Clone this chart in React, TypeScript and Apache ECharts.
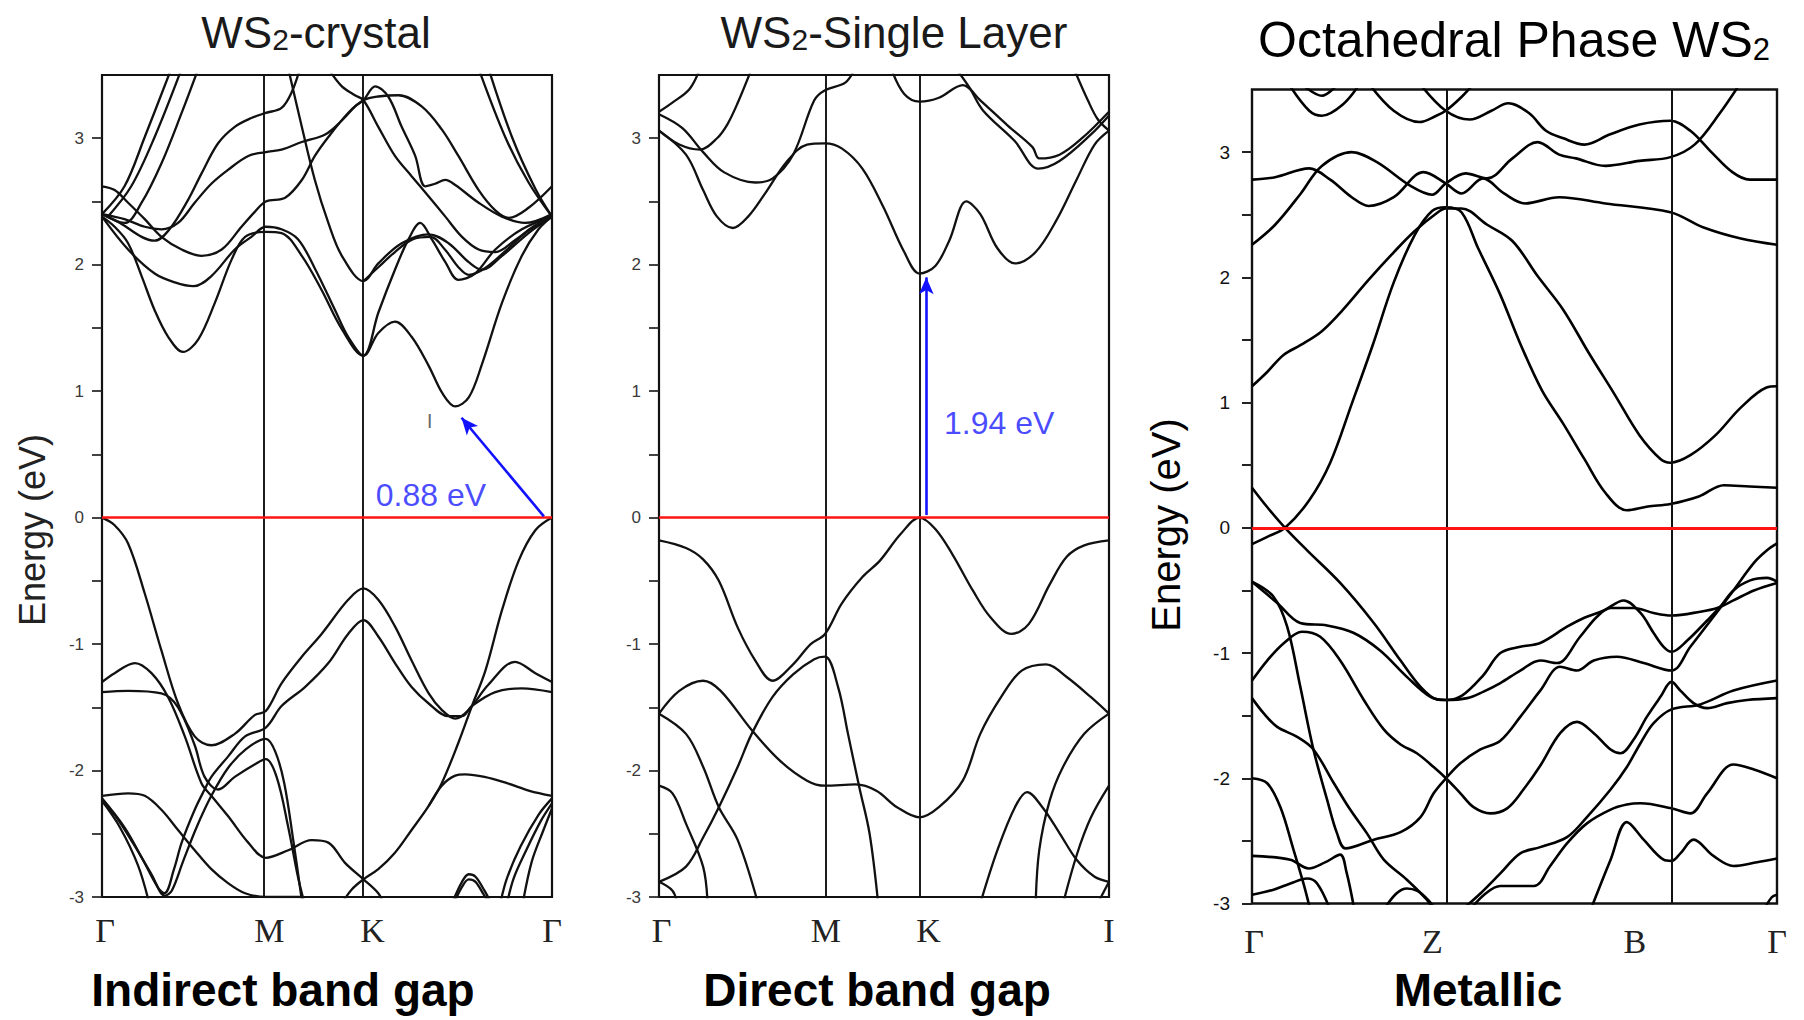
import React, { useEffect, useRef } from "react";
import * as echarts from "echarts";

// ---------- shared axis values ----------
const energyTicks = [-3, -2, -1, 0, 1, 2, 3];
const energyHalfTicks = [-3, -2.5, -2, -1.5, -1, -0.5, 0, 0.5, 1, 1.5, 2, 2.5, 3];

// ---------- panel 1 : WS2 crystal ----------
const crystalPointNames = ["Γ", "M", "K", "Γ"];
const crystalPoints = [0, 0.364, 0.581, 1];
const crystalGap = 0.88;
const crystalArrow = [[0.982, 0.01], [0.799, 0.79]];
const crystalGapLabelAt = [0.731, 0.18];
const crystalMarkAt = [0.728, 0.77];
const crystalBands: number[][][] = [
  [[0,2.38],[0.028,2.30],[0.058,2.17],[0.088,1.91],[0.117,1.64],[0.147,1.43],[0.18,1.31],[0.214,1.41],[0.251,1.70],[0.288,2.04],[0.318,2.22],[0.364,2.26],[0.399,2.25],[0.444,2.07],[0.488,1.80],[0.533,1.49],[0.581,1.28],[0.614,1.46],[0.651,1.55],[0.688,1.43],[0.726,1.20],[0.757,0.98],[0.785,0.88],[0.815,0.95],[0.845,1.22],[0.889,1.70],[0.933,2.07],[0.97,2.28],[1,2.38]],
  [[0,2.38],[0.058,2.12],[0.117,1.93],[0.162,1.86],[0.203,1.83],[0.243,1.91],[0.295,2.12],[0.332,2.22],[0.364,2.30],[0.399,2.28],[0.436,2.20],[0.473,1.97],[0.518,1.64],[0.547,1.43],[0.581,1.28],[0.614,1.62],[0.651,1.96],[0.681,2.20],[0.707,2.33],[0.733,2.20],[0.763,2.02],[0.792,1.88],[0.829,1.93],[0.874,2.12],[0.933,2.28],[1,2.38]],
  [[0,2.62],[0.028,2.59],[0.058,2.49],[0.095,2.36],[0.132,2.22],[0.177,2.12],[0.221,2.07],[0.266,2.12],[0.31,2.30],[0.34,2.42],[0.364,2.50],[0.407,2.53],[0.444,2.67],[0.473,2.86],[0.503,3.01],[0.547,3.20],[0.581,3.30],[0.614,3.33],[0.659,3.34],[0.711,3.25],[0.755,3.07],[0.792,2.86],[0.837,2.59],[0.874,2.43],[0.904,2.37],[0.948,2.45],[1,2.62]],
  [[0.414,3.55],[0.444,3.09],[0.473,2.67],[0.503,2.33],[0.533,2.07],[0.581,1.87],[0.614,2.01],[0.666,2.17],[0.726,2.24],[0.77,2.17],[0.815,2.02],[0.844,1.96],[0.889,2.07],[0.948,2.25],[1,2.38]],
  [[0.581,1.87],[0.614,1.98],[0.651,2.10],[0.69,2.20],[0.73,2.22],[0.762,2.12],[0.792,1.98],[0.815,1.92],[0.85,1.97],[0.90,2.12],[0.95,2.28],[1,2.38]],
  [[0,2.40],[0.05,2.36],[0.095,2.30],[0.132,2.28],[0.169,2.33],[0.206,2.49],[0.243,2.64],[0.28,2.75],[0.325,2.86],[0.364,2.89],[0.399,2.91],[0.444,2.97],[0.496,3.03],[0.533,3.14],[0.562,3.25],[0.581,3.30],[0.607,3.41],[0.636,3.33],[0.666,3.09],[0.696,2.86],[0.718,2.62],[0.74,2.64],[0.763,2.67],[0.785,2.63],[0.837,2.49],[0.889,2.38],[0.94,2.33],[1,2.40]],
  [[0,2.40],[0.04,2.33],[0.088,2.22],[0.117,2.19],[0.15,2.28],[0.191,2.51],[0.221,2.72],[0.258,2.96],[0.295,3.09],[0.332,3.16],[0.364,3.20],[0.399,3.24],[0.421,3.36],[0.44,3.55]],
  [[0.503,3.55],[0.533,3.41],[0.562,3.34],[0.581,3.30],[0.614,3.09],[0.651,2.86],[0.688,2.70],[0.726,2.54],[0.763,2.38],[0.80,2.22],[0.837,2.12],[0.874,2.10],[0.92,2.20],[0.96,2.30],[1,2.38]],
  [[0,2.40],[0.05,2.62],[0.095,3.01],[0.154,3.55]],
  [[0.013,2.38],[0.065,2.62],[0.117,3.01],[0.177,3.55]],
  [[0,2.40],[0.05,2.33],[0.088,2.49],[0.132,2.80],[0.177,3.20],[0.214,3.55]],
  [[0.837,3.55],[0.896,3.01],[0.948,2.65],[1,2.38]],
  [[0.859,3.55],[0.911,3.01],[0.963,2.60],[1,2.38]],
  [[0,0],[0.028,-0.06],[0.058,-0.205],[0.095,-0.60],[0.132,-1.05],[0.169,-1.47],[0.206,-1.73],[0.243,-1.80],[0.295,-1.71],[0.34,-1.56],[0.364,-1.53],[0.399,-1.31],[0.444,-1.10],[0.488,-0.92],[0.547,-0.65],[0.581,-0.56],[0.614,-0.65],[0.651,-0.86],[0.688,-1.13],[0.726,-1.39],[0.755,-1.52],[0.785,-1.59],[0.815,-1.52],[0.859,-1.32],[0.918,-1.14],[0.963,-1.23],[1,-1.30]],
  [[0,-1.38],[0.058,-1.37],[0.132,-1.39],[0.169,-1.50],[0.206,-1.80],[0.228,-2.05],[0.258,-2.15],[0.295,-2.05],[0.34,-1.95],[0.364,-1.91],[0.388,-2.05],[0.414,-2.45],[0.436,-2.85],[0.45,-3.05]],
  [[0,-2.22],[0.05,-2.45],[0.09,-2.70],[0.125,-2.93],[0.139,-2.97],[0.16,-2.78],[0.177,-2.57],[0.206,-2.31],[0.228,-2.15],[0.243,-2.05],[0.28,-1.89],[0.318,-1.73],[0.364,-1.66],[0.399,-1.49],[0.451,-1.34],[0.503,-1.15],[0.547,-0.92],[0.581,-0.81],[0.614,-0.94],[0.651,-1.15],[0.688,-1.34],[0.726,-1.47],[0.77,-1.57],[0.80,-1.57],[0.822,-1.49],[0.874,-1.38],[0.933,-1.35],[1,-1.38]],
  [[0,-1.30],[0.028,-1.23],[0.073,-1.15],[0.11,-1.23],[0.147,-1.42],[0.184,-1.73],[0.221,-2.10],[0.243,-2.20],[0.28,-2.36],[0.325,-2.57],[0.364,-2.69],[0.414,-2.63],[0.466,-2.55],[0.503,-2.57],[0.54,-2.73],[0.581,-2.86],[0.614,-2.97],[0.625,-3.05]],
  [[1,0],[0.963,-0.10],[0.926,-0.34],[0.889,-0.73],[0.852,-1.21],[0.822,-1.49],[0.792,-1.78],[0.755,-2.10],[0.726,-2.28],[0.688,-2.47],[0.651,-2.65],[0.614,-2.78],[0.581,-2.86],[0.555,-2.94],[0.533,-3.05]],
  [[0.726,-2.28],[0.755,-2.12],[0.785,-2.04],[0.807,-2.03],[0.85,-2.05],[0.90,-2.10],[0.95,-2.16],[1,-2.20]],
  [[0,-2.20],[0.058,-2.18],[0.095,-2.20],[0.132,-2.31],[0.169,-2.47],[0.206,-2.63],[0.243,-2.78],[0.28,-2.89],[0.318,-2.97],[0.364,-3.0],[0.44,-3.0]],
  [[0,-2.24],[0.03,-2.36],[0.07,-2.58],[0.11,-2.82],[0.14,-2.99],[0.155,-2.95],[0.18,-2.72],[0.21,-2.45],[0.243,-2.20],[0.28,-1.98],[0.32,-1.83],[0.364,-1.75],[0.385,-1.85],[0.405,-2.10],[0.425,-2.55],[0.445,-3.05]],
  [[0,-2.24],[0.04,-2.45],[0.08,-2.75],[0.105,-3.05]],
  [[1,-2.22],[0.97,-2.35],[0.93,-2.60],[0.90,-2.85],[0.885,-3.05]],
  [[1,-2.26],[0.975,-2.40],[0.94,-2.65],[0.915,-2.85],[0.90,-3.05]],
  [[1,-2.30],[0.98,-2.48],[0.955,-2.72],[0.935,-3.05]],
  [[0.778,-3.05],[0.80,-2.88],[0.815,-2.82],[0.83,-2.84],[0.85,-2.95],[0.865,-3.05]],
  [[0.782,-3.05],[0.80,-2.92],[0.815,-2.86],[0.83,-2.88],[0.848,-2.98],[0.86,-3.05]],
];

// ---------- panel 2 : WS2 single layer ----------
const layerPointNames = ["Γ", "M", "K", "I"];
const layerPoints = [0, 0.369, 0.579, 1];
const layerGap = 1.94;
const layerArrow = [[0.594, 0.02], [0.594, 1.9]];
const layerGapLabelAt = [0.756, 0.75];
const layerBands: number[][][] = [
  [[0,3.06],[0.06,2.87],[0.098,2.59],[0.129,2.38],[0.164,2.29],[0.198,2.38],[0.237,2.57],[0.283,2.81],[0.329,2.95],[0.369,2.96],[0.406,2.92],[0.452,2.76],[0.498,2.46],[0.545,2.10],[0.579,1.93],[0.614,1.99],[0.645,2.19],[0.683,2.50],[0.714,2.40],[0.752,2.13],[0.791,2.01],[0.837,2.10],[0.883,2.35],[0.929,2.68],[0.968,2.95],[1,3.06]],
  [[0,3.19],[0.052,3.08],[0.098,2.89],[0.145,2.73],[0.214,2.65],[0.252,2.68],[0.298,2.87],[0.345,3.30],[0.369,3.38],[0.414,3.44],[0.435,3.55]],
  [[0,3.06],[0.045,2.95],[0.091,2.91],[0.129,3.0],[0.152,3.11],[0.175,3.28],[0.206,3.55]],
  [[0,3.21],[0.029,3.28],[0.068,3.39],[0.091,3.55]],
  [[0.516,3.55],[0.545,3.35],[0.579,3.29],[0.622,3.32],[0.675,3.42],[0.714,3.30],[0.775,3.10],[0.83,2.93],[0.845,2.84],[0.89,2.87],[0.94,3.0],[1,3.21]],
  [[0.66,3.55],[0.69,3.40],[0.72,3.22],[0.79,2.98],[0.843,2.76],[0.89,2.82],[0.96,3.03],[1,3.18]],
  [[0.922,3.55],[0.953,3.30],[0.975,3.15],[1,3.06]],
  [[0,-0.18],[0.06,-0.24],[0.098,-0.33],[0.133,-0.50],[0.175,-0.87],[0.214,-1.13],[0.252,-1.29],[0.298,-1.16],[0.337,-1.0],[0.369,-0.92],[0.406,-0.68],[0.452,-0.47],[0.491,-0.34],[0.537,-0.13],[0.579,0],[0.614,-0.09],[0.652,-0.29],[0.698,-0.58],[0.737,-0.79],[0.783,-0.92],[0.822,-0.84],[0.868,-0.53],[0.906,-0.31],[0.945,-0.22],[1,-0.18]],
  [[0,-2.88],[0.06,-2.76],[0.098,-2.53],[0.133,-2.29],[0.175,-1.97],[0.206,-1.71],[0.252,-1.42],[0.298,-1.24],[0.345,-1.12],[0.369,-1.10],[0.398,-1.34],[0.42,-1.71],[0.445,-2.13],[0.468,-2.50],[0.487,-3.05]],
  [[0,-1.55],[0.045,-1.37],[0.098,-1.29],[0.137,-1.37],[0.206,-1.68],[0.268,-1.92],[0.329,-2.08],[0.369,-2.12],[0.437,-2.11],[0.483,-2.16],[0.529,-2.29],[0.579,-2.37],[0.622,-2.29],[0.675,-2.08],[0.714,-1.71],[0.76,-1.42],[0.806,-1.21],[0.86,-1.16],[0.906,-1.26],[0.96,-1.42],[1,-1.55]],
  [[0,-1.55],[0.06,-1.71],[0.098,-1.97],[0.133,-2.29],[0.175,-2.55],[0.22,-3.05]],
  [[0,-2.12],[0.03,-2.18],[0.06,-2.42],[0.098,-2.76],[0.108,-3.05]],
  [[0,-2.88],[0.03,-2.95],[0.04,-3.05]],
  [[1,-1.55],[0.945,-1.71],[0.898,-1.97],[0.868,-2.24],[0.845,-2.63],[0.837,-3.05]],
  [[0.714,-3.05],[0.752,-2.63],[0.791,-2.29],[0.818,-2.17],[0.852,-2.29],[0.891,-2.50],[0.929,-2.71],[0.968,-2.84],[1,-2.88]],
  [[1,-2.12],[0.96,-2.37],[0.929,-2.66],[0.898,-3.05]],
  [[1,-2.88],[0.975,-3.05]],
];

// ---------- panel 3 : octahedral WS2 ----------
const octaPointNames = ["Γ", "Z", "B", "Γ"];
const octaPoints = [0, 0.3695, 0.799, 1];
const octaBands: number[][][] = [
  [[0,1.13],[0.028,1.24],[0.06,1.38],[0.093,1.46],[0.133,1.57],[0.173,1.74],[0.222,1.98],[0.27,2.20],[0.31,2.37],[0.351,2.51],[0.369,2.55],[0.399,2.55],[0.448,2.42],[0.496,2.29],[0.544,2.01],[0.593,1.74],[0.641,1.40],[0.69,1.07],[0.738,0.74],[0.778,0.55],[0.797,0.52],[0.835,0.58],[0.883,0.74],[0.931,0.96],[0.98,1.12],[1,1.13]],
  [[0,-0.13],[0.03,-0.07],[0.063,0],[0.109,0.22],[0.149,0.52],[0.19,0.99],[0.23,1.46],[0.27,1.96],[0.31,2.34],[0.343,2.53],[0.369,2.56],[0.399,2.52],[0.431,2.23],[0.472,1.87],[0.512,1.46],[0.552,1.10],[0.593,0.83],[0.633,0.55],[0.673,0.28],[0.714,0.14],[0.754,0.17],[0.797,0.19],[0.851,0.25],[0.899,0.34],[0.948,0.33],[1,0.32]],
  [[0,2.78],[0.044,2.80],[0.109,2.87],[0.149,2.78],[0.19,2.64],[0.222,2.57],[0.27,2.64],[0.327,2.84],[0.369,2.75],[0.399,2.67],[0.44,2.79],[0.48,2.67],[0.52,2.59],[0.585,2.64],[0.673,2.59],[0.797,2.52],[0.859,2.40],[0.931,2.31],[1,2.26]],
  [[0,2.26],[0.044,2.42],[0.093,2.67],[0.133,2.89],[0.19,3.0],[0.238,2.92],[0.302,2.73],[0.343,2.66],[0.369,2.75],[0.407,2.83],[0.448,2.79],[0.496,2.95],[0.544,3.08],[0.585,2.98],[0.617,2.95],[0.673,2.89],[0.738,2.93],[0.797,2.96],[0.843,3.06],[0.891,3.31],[0.93,3.55]],
  [[0.069,3.55],[0.109,3.33],[0.133,3.29],[0.173,3.38],[0.206,3.55]],
  [[0.093,3.55],[0.133,3.45],[0.165,3.55]],
  [[0.222,3.55],[0.27,3.33],[0.319,3.24],[0.351,3.29],[0.369,3.33],[0.399,3.44],[0.423,3.55]],
  [[0.319,3.55],[0.369,3.33],[0.415,3.26],[0.456,3.33],[0.488,3.39],[0.528,3.31],[0.56,3.17],[0.593,3.11],[0.633,3.06],[0.681,3.14],[0.738,3.22],[0.797,3.25],[0.835,3.17],[0.875,3.0],[0.915,2.84],[0.948,2.78],[1,2.78]],
  [[0,0.32],[0.028,0.17],[0.063,0],[0.105,-0.18],[0.168,-0.44],[0.232,-0.76],[0.283,-1.06],[0.321,-1.27],[0.352,-1.37],[0.3695,-1.375],[0.41,-1.36],[0.44,-1.31],[0.473,-1.24],[0.511,-1.14],[0.549,-1.06],[0.581,-1.08],[0.625,-0.87],[0.657,-0.71],[0.683,-0.64],[0.727,-0.64],[0.765,-0.68],[0.799,-0.70],[0.854,-0.67],[0.886,-0.64],[0.917,-0.58],[0.956,-0.50],[1,-0.44]],
  [[0,-0.43],[0.048,-0.60],[0.092,-0.76],[0.143,-0.78],[0.194,-0.84],[0.244,-0.98],[0.295,-1.19],[0.34,-1.35],[0.3695,-1.375],[0.40,-1.34],[0.44,-1.18],[0.473,-1.0],[0.511,-0.95],[0.549,-0.92],[0.60,-0.79],[0.632,-0.72],[0.67,-0.66],[0.708,-0.58],[0.74,-0.68],[0.765,-0.84],[0.784,-0.95],[0.799,-0.99],[0.829,-0.90],[0.867,-0.74],[0.892,-0.63],[0.917,-0.50],[0.949,-0.42],[0.981,-0.40],[1,-0.43]],
  [[0,-0.43],[0.041,-0.55],[0.067,-0.79],[0.092,-1.27],[0.117,-1.77],[0.143,-2.17],[0.162,-2.44],[0.178,-2.56],[0.232,-2.49],[0.283,-2.43],[0.321,-2.31],[0.346,-2.12],[0.3695,-2.0],[0.397,-1.88],[0.435,-1.77],[0.473,-1.70],[0.511,-1.51],[0.549,-1.30],[0.587,-1.11],[0.619,-1.14],[0.651,-1.06],[0.695,-1.03],[0.746,-1.08],[0.799,-1.14],[0.835,-0.95],[0.879,-0.71],[0.917,-0.50],[0.956,-0.28],[0.981,-0.18],[1,-0.125]],
  [[0,-1.22],[0.029,-1.06],[0.061,-0.92],[0.095,-0.83],[0.13,-0.87],[0.168,-1.06],[0.213,-1.375],[0.251,-1.61],[0.283,-1.73],[0.314,-1.80],[0.346,-1.91],[0.3695,-2.0],[0.397,-2.12],[0.422,-2.23],[0.454,-2.28],[0.486,-2.24],[0.517,-2.09],[0.549,-1.90],[0.587,-1.64],[0.619,-1.55],[0.651,-1.64],[0.683,-1.77],[0.702,-1.80],[0.727,-1.69],[0.752,-1.51],[0.778,-1.35],[0.799,-1.23],[0.816,-1.30],[0.841,-1.40],[0.867,-1.44],[0.905,-1.40],[0.943,-1.375],[1,-1.36]],
  [[0,-1.36],[0.022,-1.48],[0.048,-1.59],[0.086,-1.67],[0.117,-1.77],[0.156,-2.04],[0.187,-2.25],[0.219,-2.44],[0.251,-2.65],[0.295,-2.81],[0.333,-2.97],[0.345,-3.05]],
  [[0.251,-3.05],[0.275,-2.92],[0.295,-2.88],[0.315,-2.90],[0.335,-2.97],[0.35,-3.05]],
  [[0,-2.0],[0.029,-2.04],[0.054,-2.23],[0.079,-2.57],[0.098,-2.84],[0.111,-3.05]],
  [[0,-2.62],[0.073,-2.65],[0.108,-2.72],[0.14,-2.67],[0.168,-2.61],[0.18,-2.75],[0.195,-3.05]],
  [[0,-2.93],[0.041,-2.89],[0.073,-2.84],[0.105,-2.80],[0.124,-2.84],[0.149,-3.05]],
  [[0.40,-3.05],[0.435,-2.92],[0.473,-2.76],[0.511,-2.60],[0.549,-2.55],[0.60,-2.47],[0.638,-2.31],[0.683,-2.09],[0.714,-1.91],[0.74,-1.72],[0.765,-1.56],[0.799,-1.45],[0.854,-1.41],[0.917,-1.30],[1,-1.22]],
  [[0.415,-3.05],[0.445,-2.92],[0.473,-2.86],[0.537,-2.86],[0.568,-2.70],[0.60,-2.52],[0.638,-2.36],[0.683,-2.25],[0.714,-2.21],[0.74,-2.20],[0.799,-2.24],[0.835,-2.28],[0.867,-2.12],[0.917,-1.89],[0.956,-1.93],[1,-2.0]],
  [[0.645,-3.05],[0.683,-2.65],[0.714,-2.35],[0.746,-2.49],[0.784,-2.65],[0.799,-2.66],[0.816,-2.60],[0.841,-2.49],[0.879,-2.62],[0.917,-2.70],[0.962,-2.67],[1,-2.64]],
  [[0.975,-3.05],[0.99,-2.95],[1,-2.93]],
];

// ---------- helpers ----------
const nearestName = (vals: number[], names: string[]) => (v: number) => {
  let best = 0;
  for (let i = 1; i < vals.length; i++) if (Math.abs(vals[i] - v) < Math.abs(vals[best] - v)) best = i;
  return names[best];
};

function bandSeries(bands: number[][][], idx: number, width: number, color: string) {
  return bands.map((pts) => ({
    type: "line",
    xAxisIndex: idx,
    yAxisIndex: idx,
    data: pts,
    symbol: "none",
    smooth: 0.35,
    silent: true,
    clip: true,
    z: 3,
    lineStyle: { color, width },
  }));
}

function markerSeries(idx: number, points: number[], kWidth: number, redWidth: number, arrow?: number[][]) {
  const data: any[] = points.slice(1, -1).map((v) => ({
    xAxis: v,
    lineStyle: { color: "#111", width: kWidth, type: "solid" },
  }));
  data.push({ yAxis: 0, lineStyle: { color: "#ff1414", width: redWidth, type: "solid" } });
  if (arrow) {
    const ls = { color: "#1212ff", width: 2.6, type: "solid" };
    data.push([
      { coord: arrow[0], symbol: "none", lineStyle: ls },
      { coord: arrow[1], symbol: "arrow", symbolSize: [11, 17], lineStyle: ls },
    ]);
  }
  return {
    type: "line",
    xAxisIndex: idx,
    yAxisIndex: idx,
    data: [],
    symbol: "none",
    silent: true,
    z: 4,
    markLine: {
      silent: true,
      symbol: ["none", "none"],
      label: { show: false },
      emphasis: { disabled: true },
      data,
    },
  };
}

function textSeries(idx: number, at: number[], text: string, color: string, size: number) {
  return {
    type: "scatter",
    xAxisIndex: idx,
    yAxisIndex: idx,
    data: [at],
    symbolSize: 0,
    silent: true,
    z: 5,
    itemStyle: { color: "rgba(0,0,0,0)" },
    label: {
      show: true,
      position: "inside",
      formatter: text,
      color,
      fontSize: size,
      fontFamily: "Liberation Sans, Arial, sans-serif",
    },
  };
}

export default function App() {
  const ref = useRef<HTMLDivElement>(null);

  useEffect(() => {
    if (!ref.current) return;
    const chart = echarts.init(ref.current, undefined, { renderer: "svg" });

    const grids = [
      { left: 102, top: 75, width: 450, height: 822 },
      { left: 659, top: 75, width: 450, height: 822 },
      { left: 1252, top: 89.5, width: 525, height: 814 },
    ].map((g, i) => ({
      ...g,
      show: true,
      borderColor: "#111",
      borderWidth: i === 2 ? 2.4 : 2.2,
      backgroundColor: "transparent",
      containLabel: false,
      outerBoundsMode: "none",
    }));

    const labelNudges = [
      [0.007, 0.008, 0.02, 0.0],
      [0.006, 0.002, 0.02, 0.0],
      [0.004, -0.026, -0.07, 1.0],
    ];
    const pointSets = [crystalPoints, layerPoints, octaPoints];
    const nameSets = [crystalPointNames, layerPointNames, octaPointNames];

    const xAxes = [0, 1, 2].map((i) => {
      const vals = pointSets[i].map((v, j) => (i === 2 && j === 3 ? 1 : v + labelNudges[i][j]));
      return {
        type: "value",
        gridIndex: i,
        min: 0,
        max: 1,
        axisLine: { show: false },
        axisTick: { show: false },
        splitLine: { show: false },
        axisLabel: {
          customValues: vals,
          formatter: nearestName(vals, nameSets[i]),
          fontFamily: "Liberation Serif, Times New Roman, serif",
          fontSize: 34,
          color: "#222",
          margin: i === 2 ? 21 : 16,
          showMinLabel: true,
          showMaxLabel: true,
        },
      };
    });

    const yAxes = [0, 1, 2].map((i) => ({
      type: "value",
      gridIndex: i,
      min: -3,
      max: 3.5,
      interval: 1,
      axisLine: { show: false },
      splitLine: { show: false },
      axisTick: {
        show: true,
        customValues: energyHalfTicks,
        length: 10,
        inside: false,
        lineStyle: { color: "#222", width: i === 2 ? 2 : 1.7 },
      },
      axisLabel: {
        customValues: energyTicks,
        fontSize: i === 2 ? 19 : 17,
        color: i === 2 ? "#111" : "#3a3a3a",
        margin: i === 2 ? 22 : 18,
        fontFamily: "Liberation Sans, Arial, sans-serif",
      },
    }));

    const titleFont = "Liberation Sans, Arial, sans-serif";
    const graphic: any[] = [
      {
        type: "text",
        x: 316,
        y: 29,
        style: {
          text: "{a|WS}{b|2}{a|-crystal}",
          align: "center",
          verticalAlign: "middle",
          rich: {
            a: { fontSize: 44, fontFamily: titleFont, fill: "#1a1a1a", verticalAlign: "bottom", lineHeight: 50 },
            b: { fontSize: 30, fontFamily: titleFont, fill: "#1a1a1a", verticalAlign: "bottom", lineHeight: 46 },
          },
        },
      },
      {
        type: "text",
        x: 894,
        y: 29,
        style: {
          text: "{a|WS}{b|2}{a|-Single Layer}",
          align: "center",
          verticalAlign: "middle",
          rich: {
            a: { fontSize: 44, fontFamily: titleFont, fill: "#1a1a1a", verticalAlign: "bottom", lineHeight: 50 },
            b: { fontSize: 30, fontFamily: titleFont, fill: "#1a1a1a", verticalAlign: "bottom", lineHeight: 46 },
          },
        },
      },
      {
        type: "text",
        x: 1514,
        y: 36,
        style: {
          text: "{a|Octahedral Phase WS}{b|2}",
          align: "center",
          verticalAlign: "middle",
          rich: {
            a: { fontSize: 50, fontFamily: titleFont, fill: "#000", verticalAlign: "bottom", lineHeight: 58 },
            b: { fontSize: 31, fontFamily: titleFont, fill: "#000", verticalAlign: "bottom", lineHeight: 50 },
          },
        },
      },
      {
        type: "text",
        x: 283,
        y: 990,
        style: { text: "Indirect band gap", align: "center", verticalAlign: "middle", font: `bold 46px ${titleFont}`, fill: "#000" },
      },
      {
        type: "text",
        x: 877,
        y: 990,
        style: { text: "Direct band gap", align: "center", verticalAlign: "middle", font: `bold 46px ${titleFont}`, fill: "#000" },
      },
      {
        type: "text",
        x: 1478,
        y: 990,
        style: { text: "Metallic", align: "center", verticalAlign: "middle", font: `bold 46px ${titleFont}`, fill: "#000" },
      },
      {
        type: "text",
        x: 32,
        y: 530,
        rotation: Math.PI / 2,
        style: { text: "Energy (eV)", align: "center", verticalAlign: "middle", font: `36px ${titleFont}`, fill: "#222" },
      },
      {
        type: "text",
        x: 1166,
        y: 525,
        rotation: Math.PI / 2,
        style: { text: "Energy (eV)", align: "center", verticalAlign: "middle", font: `40px ${titleFont}`, fill: "#000" },
      },
    ];

    const series: any[] = [
      ...bandSeries(crystalBands, 0, 2.3, "#111"),
      ...bandSeries(layerBands, 1, 2.3, "#111"),
      ...bandSeries(octaBands, 2, 2.6, "#000"),
      markerSeries(0, crystalPoints, 1.9, 2.5, crystalArrow),
      markerSeries(1, layerPoints, 1.9, 2.5, layerArrow),
      markerSeries(2, octaPoints, 2, 3),
      textSeries(0, crystalGapLabelAt, `${crystalGap} eV`, "#1a1aff", 32),
      textSeries(0, crystalMarkAt, "I", "#444", 21),
      textSeries(1, layerGapLabelAt, `${layerGap} eV`, "#1a1aff", 32),
    ];

    chart.setOption({
      animation: false,
      backgroundColor: "#fff",
      grid: grids,
      xAxis: xAxes,
      yAxis: yAxes,
      graphic,
      series,
    });

    return () => chart.dispose();
  }, []);

  return (
    <div
      ref={ref}
      style={{ position: "fixed", left: 0, top: 0, width: 1804, height: 1020, background: "#fff" }}
    />
  );
}
